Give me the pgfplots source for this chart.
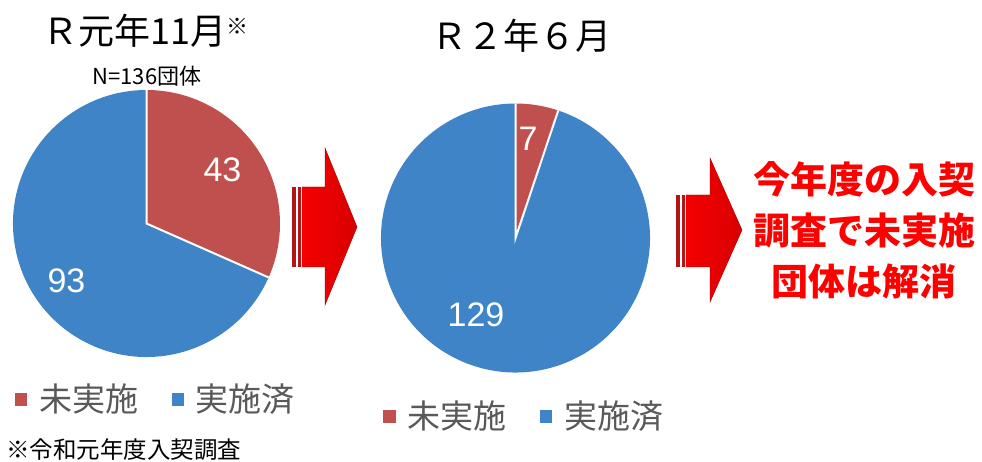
\documentclass[border=0pt]{standalone}
\usepackage{fontspec}
\setmainfont{Noto Sans CJK JP}
\newfontfamily\lat{Liberation Sans}
\usepackage{pgfplots}
\usepackage{pgfplotstable}
\pgfplotsset{compat=1.18}
\definecolor{pieRed}{RGB}{192,80,77}
\definecolor{pieBlue}{RGB}{64,132,200}
\definecolor{legGray}{RGB}{89,89,89}
\definecolor{arrRed}{RGB}{245,0,0}
\definecolor{arrDark}{RGB}{180,20,20}

\pgfplotstableread{
cat value
notdone 43
done 93
}\pieA
\pgfplotstableread{
cat value
notdone 7
done 129
}\pieB

\begin{document}
\begin{tikzpicture}
\useasboundingbox (0pt,0pt) rectangle (982pt,-462pt);
\pgfplotstablegetelem{0}{value}\of\pieA \let\aOne\pgfplotsretval
\pgfplotstablegetelem{1}{value}\of\pieA \let\aTwo\pgfplotsretval
\pgfplotstablegetelem{0}{value}\of\pieB \let\bOne\pgfplotsretval
\pgfplotstablegetelem{1}{value}\of\pieB \let\bTwo\pgfplotsretval
\pgfmathsetmacro\angA{90-360*\aOne/(\aOne+\aTwo)}
\pgfmathsetmacro\angB{90-360*\bOne/(\bOne+\bTwo)}

% pie 1
\begin{axis}[hide axis, scale only axis, width=267pt, height=267pt,
  xmin=-1,xmax=1,ymin=-1,ymax=1, anchor=center, at={(146.5pt,-223.5pt)}, clip=false]
\fill[pieRed] (axis cs:0,0) -- (axis cs:0,1) arc[start angle=90, end angle=\angA, radius=133.5pt] -- cycle;
\fill[pieBlue] (axis cs:0,0) -- (axis cs:{cos(\angA)},{sin(\angA)}) arc[start angle=\angA, end angle=-270, radius=133.5pt] -- cycle;
\draw[white, line width=2pt] (axis cs:0,1) -- (axis cs:0,0) -- (axis cs:{cos(\angA)},{sin(\angA)});
\end{axis}

% pie 2
\begin{axis}[hide axis, scale only axis, width=269pt, height=269pt,
  xmin=-1,xmax=1,ymin=-1,ymax=1, anchor=center, at={(515.5pt,-238pt)}, clip=false]
\fill[pieRed] (axis cs:0,0) -- (axis cs:0,1) arc[start angle=90, end angle=\angB, radius=134.5pt] -- cycle;
\fill[pieBlue] (axis cs:0,0) -- (axis cs:{cos(\angB)},{sin(\angB)}) arc[start angle=\angB, end angle=-270, radius=134.5pt] -- cycle;
\draw[white, line width=2pt] (axis cs:0,1) -- (axis cs:0,0) -- (axis cs:{cos(\angB)},{sin(\angB)});
\end{axis}

% pie labels
\node[white, inner sep=0pt, font=\lat\fontsize{34}{34}\selectfont] at (222.5pt,-170pt) {43};
\node[white, inner sep=0pt, font=\lat\fontsize{34}{34}\selectfont] at (66.5pt,-280.5pt) {93};
\node[white, inner sep=0pt, font=\lat\fontsize{34}{34}\selectfont] at (528pt,-139pt) {7};
\node[white, inner sep=0pt, font=\lat\fontsize{34}{34}\selectfont] at (476pt,-314.5pt) {129};

% titles
\node[anchor=base west, inner sep=0pt, font=\fontsize{36}{36}\selectfont] at (42pt,-45pt) {Ｒ元年11月\raisebox{10pt}{\fontsize{22}{22}\selectfont ※}};
\node[anchor=base, inner sep=0pt, font=\fontsize{22}{22}\selectfont] at (147pt,-85pt) {N=136団体};
\node[anchor=base, inner sep=0pt, font=\fontsize{36}{36}\selectfont] at (521pt,-50pt) {Ｒ２年６月};

% arrows
\fill[arrDark] (292pt,-187pt) rectangle (295.5pt,-267pt);
\fill[arrDark] (297.5pt,-187pt) rectangle (301pt,-267pt);
\fill[arrDark] (676pt,-195pt) rectangle (679.5pt,-267pt);
\fill[arrDark] (681.5pt,-195pt) rectangle (685pt,-267pt);
\shade[left color=arrRed, right color=red!85!black, draw=red!60!black, line width=0.4pt]
  (302pt,-187pt) -- (325pt,-187pt) -- (325pt,-148pt) -- (357pt,-227pt) -- (325pt,-305pt) -- (325pt,-267pt) -- (302pt,-267pt) -- cycle;
\shade[left color=arrRed, right color=red!85!black, draw=red!60!black, line width=0.4pt]
  (686pt,-195pt) -- (710pt,-195pt) -- (710pt,-158pt) -- (742pt,-230pt) -- (710pt,-302pt) -- (710pt,-267pt) -- (686pt,-267pt) -- cycle;

% red message
\node[red, align=center, inner sep=0pt, font=\bfseries\fontsize{37}{51}\selectfont] at (864pt,-230pt) {今年度の入契\\調査で未実施\\団体は解消};

% legends
\fill[pieRed] (15pt,-393pt) rectangle (27pt,-406pt);
\node[anchor=base west, inner sep=0pt, legGray, font=\fontsize{33}{33}\selectfont] at (39pt,-411pt) {未実施};
\fill[pieBlue] (172pt,-393pt) rectangle (184pt,-406pt);
\node[anchor=base west, inner sep=0pt, legGray, font=\fontsize{33}{33}\selectfont] at (195pt,-411pt) {実施済};

\fill[pieRed] (383pt,-410pt) rectangle (396pt,-423pt);
\node[anchor=base west, inner sep=0pt, legGray, font=\fontsize{33}{33}\selectfont] at (407pt,-428pt) {未実施};
\fill[pieBlue] (540pt,-410pt) rectangle (552pt,-423pt);
\node[anchor=base west, inner sep=0pt, legGray, font=\fontsize{33}{33}\selectfont] at (564pt,-428pt) {実施済};

% footnote
\node[anchor=base west, inner sep=0pt, font=\fontsize{23.5}{23.5}\selectfont] at (6pt,-458pt) {※令和元年度入契調査};
\end{tikzpicture}
\end{document}
